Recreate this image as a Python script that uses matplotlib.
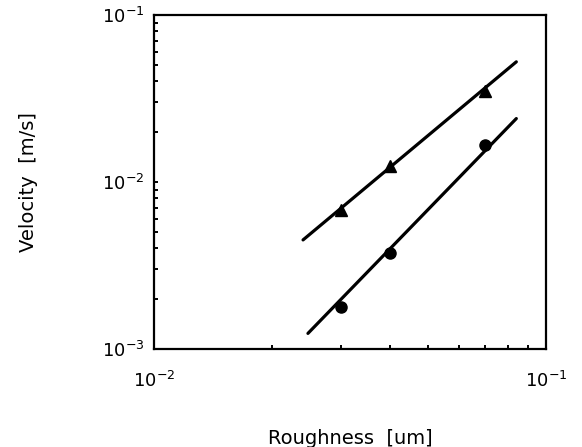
import numpy as np
import matplotlib
matplotlib.use('Agg')
import matplotlib.pyplot as plt
from matplotlib.ticker import LogLocator, NullFormatter

plt.rcParams['font.family'] = ['DejaVu Sans']
plt.rcParams['mathtext.fontset'] = 'dejavusans'

roughness = [0.03, 0.04, 0.07]
vel_triangle = [0.0068, 0.0124, 0.0350]
vel_circle = [0.00178, 0.00376, 0.0167]

# fitted lines: start point, slope in log-log, and x range
tri_fit_start = (0.0240, 0.00450)
tri_fit_slope = 1.96
circ_fit_start = (0.0247, 0.00124)
circ_fit_slope = 2.42
fit_x_end = 0.0840

fig = plt.figure(figsize=(5.82, 4.47), dpi=100)
ax = fig.add_axes([154/582, 98/447, 392/582, 334/447])

for (x0, y0), k in [(tri_fit_start, tri_fit_slope), (circ_fit_start, circ_fit_slope)]:
    xs = np.array([x0, fit_x_end])
    ax.plot(xs, y0 * (xs / x0) ** k, color='black', lw=2.3, solid_capstyle='round')

ax.plot(roughness, vel_triangle, '^', color='black', ms=9)
ax.plot(roughness, vel_circle, 'o', color='black', ms=8)

ax.set_xscale('log')
ax.set_yscale('log')
ax.set_xlim(1e-2, 1e-1)
ax.set_ylim(1e-3, 1e-1)

for s in ax.spines.values():
    s.set_linewidth(1.6)

ax.xaxis.set_minor_locator(LogLocator(base=10, subs=np.arange(2, 10)))
ax.yaxis.set_minor_locator(LogLocator(base=10, subs=np.arange(2, 10)))
ax.xaxis.set_minor_formatter(NullFormatter())
ax.yaxis.set_minor_formatter(NullFormatter())
ax.tick_params(which='both', direction='in', top=False, right=False,
               length=3, width=1.4)
ax.tick_params(axis='x', which='major', pad=16, labelsize=13)
ax.tick_params(axis='y', which='major', pad=7, labelsize=13)

ax.set_xlabel('Roughness  [um]', fontsize=14, labelpad=27)
ax.set_ylabel('Velocity  [m/s]', fontsize=14, labelpad=46)

fig.savefig('out.png', dpi=100)
